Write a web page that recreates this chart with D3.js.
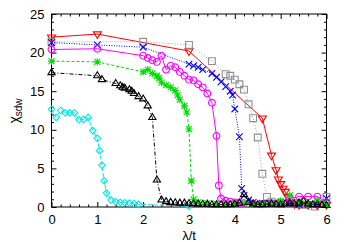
<!DOCTYPE html>
<html>
<head>
<meta charset="utf-8">
<script src="https://cdn.jsdelivr.net/npm/d3@7"></script>
<style>
  body { margin: 0; background: #fff; }
  svg text { font-family: "Liberation Sans", Arial, sans-serif; }
</style>
</head>
<body>
<svg id="chart" width="346" height="242"></svg>
<script>
// values, [lambda/t, chi_sdw]
const redPts = [[0,22.0],[1,22.4],[3,20.2],[4.6,11.5],[4.8,6.7],[4.9,4.8],[4.95,3.6],[5.0,3.0],
  [5.05,2.4],[5.1,2.0],[5.15,1.35],[5.2,0.6],[5.3,0.4],[5.4,0.3],[5.6,0.3],[5.8,0.25],[6.0,0.3]]
const grayPts = [[0,21.4],[2,21.4],[3,21.0],[3.5,18.9],[3.8,17.2],[3.9,17.0],[4.0,16.5],[4.1,15.9],
  [4.2,15.2],[4.3,13.3],[4.4,11.5],[4.5,9.0],[4.6,4.3],[4.7,1.3],[4.8,0.7],[5.0,0.5],[5.2,0.4],
  [5.5,0.3],[5.75,0.05],[6.0,1.3]]
const bluePts = [[0,21.3],[1,21.0],[2,20.7],[3,18.5],[3.1,18.3],[3.2,18.1],[3.3,17.8],[3.5,17.3],
  [3.6,16.8],[3.7,16.2],[3.8,15.6],[3.9,15.0],[3.95,14.5],[4.0,12.7],[4.1,9.1],[4.15,2.4],[4.2,1.5],
  [4.3,0.9],[4.4,0.6],[4.6,0.5],[4.8,0.4],[5.0,0.45],[5.2,0.5],[5.4,0.3],[5.6,0.3],[5.8,0.4],[6.0,1.1]]
const magentaPts = [[0,20.4],[1,20.5],[2,19.6],[2.1,19.3],[2.2,19.0],[2.3,18.8],[2.4,19.6],[2.5,17.8],
  [2.6,18.3],[2.7,18.1],[2.8,17.5],[2.9,17.0],[3.0,16.5],[3.1,16.4],[3.2,15.9],[3.3,15.5],[3.4,14.7],
  [3.5,13.5],[3.6,9.2],[3.65,2.8],[3.7,1.1],[3.8,0.8],[3.9,0.7],[4.0,0.6],[4.1,0.55],[4.2,0.5],
  [4.4,0.45],[4.6,0.4],[4.8,0.5],[5.0,0.6],[5.2,1.1],[5.4,1.35],[5.6,1.35],[5.8,1.35],[6.0,0.6]]
const greenPts = [[0,18.9],[1,18.8],[2.0,17.5],[2.1,17.8],[2.2,17.3],[2.3,17.0],[2.35,16.7],[2.4,16.1],
  [2.5,15.8],[2.6,15.5],[2.7,15.1],[2.75,14.5],[2.8,13.9],[2.9,13.1],[2.95,12.3],[3.0,10.1],[3.05,3.4],
  [3.1,1.0],[3.2,0.6],[3.4,0.5],[3.6,0.45],[3.8,0.4],[4.0,0.4],[4.2,0.5],[4.4,0.35],[4.6,0.3],
  [4.8,0.4],[5.0,0.8],[5.2,1.5],[5.4,0.6],[5.6,0.4],[5.8,0.9],[6.0,0.3]]
const blackPts = [[0,17.4],[1,17.0],[1.1,16.5],[1.4,16.0],[1.5,15.7],[1.55,15.5],[1.6,15.4],[1.7,15.2],
  [1.75,15.0],[1.8,14.7],[1.9,14.3],[2.0,14.0],[2.1,13.1],[2.2,11.6],[2.3,3.5],[2.4,0.9],[2.5,0.7],
  [2.6,0.6],[2.7,0.55],[2.8,0.5],[2.9,0.5],[3.0,0.45],[3.1,0.4],[3.2,0.4],[3.3,0.35],[3.4,0.35],
  [3.5,0.3],[3.6,0.3],[3.7,0.3],[3.8,0.3],[3.9,0.3],[4.0,0.35],[4.1,0.5],[4.2,1.6],[4.3,0.6],
  [4.4,0.4],[4.5,0.3],[4.6,0.3],[4.7,0.35],[4.8,0.4],[4.9,0.35],[5.0,0.3],[5.1,0.4],[5.2,0.5],
  [5.3,0.4],[5.4,0.5],[5.5,0.75],[5.6,0.4],[5.7,0.3],[5.8,0.3],[5.9,0.25],[6.0,0.2]]
const cyanPts = [[0,12.65],[0.1,11.6],[0.2,12.5],[0.3,12.2],[0.4,12.2],[0.5,12.2],[0.6,11.3],[0.7,11.35],
  [0.8,11.6],[0.9,9.9],[1.0,8.9],[1.05,7.3],[1.1,5.4],[1.15,3.4],[1.2,1.8],[1.3,0.9],[1.4,0.7],
  [1.5,0.6],[1.6,0.55],[1.7,0.5],[1.8,0.45],[1.9,0.35],[3.0,0.1]]

const xTicks = [0, 1, 2, 3, 4, 5, 6]
const yTicks = [0, 5, 10, 15, 20, 25]

// open marker shapes, gnuplot style
const shapes = {
  triDown: r => `M${-r},${-r*0.55}L${r},${-r*0.55}L0,${r*1.1}Z`,
  triUp: r => `M${-r},${r*0.55}L${r},${r*0.55}L0,${-r*1.1}Z`,
  square: r => `M${-r},${-r}H${r}V${r}H${-r}Z`,
  circle: r => `M${r},0A${r},${r} 0 1,1 ${-r},0A${r},${r} 0 1,1 ${r},0Z`,
  cross: r => `M${-r},${-r}L${r},${r}M${-r},${r}L${r},${-r}`,
  star: r => `M${-r},${-r}L${r},${r}M${-r},${r}L${r},${-r}M0,${-r*1.2}V${r*1.2}M${-r*1.2},0H${r*1.2}`,
  diamond: r => `M0,${-r}L${r},0L0,${r}L${-r},0Z`
}

const series = [
  {pts: cyanPts, color: '#00e8e8', dash: '4,2', shape: 'diamond', r: 3.3},
  {pts: redPts, color: '#ff0000', dash: null, shape: 'triDown', r: 4},
  {pts: grayPts, color: '#a0a0a0', dash: '1,2', shape: 'square', r: 3.4, mcolor: '#909090'},
  {pts: bluePts, color: '#0000ff', dash: '1,1.5', shape: 'cross', r: 3.3},
  {pts: magentaPts, color: '#ff00ff', dash: null, shape: 'circle', r: 3.4},
  {pts: greenPts, color: '#00dd00', dash: '3,2', shape: 'star', r: 3},
  {pts: blackPts, color: '#000000', dash: '4,2,1,2', shape: 'triUp', r: 3.6}
]

const svg = d3.select('#chart')
const mLeft = 51.5, mRight = 326.5, mTop = 14, mBottom = 207

const x = d3.scaleLinear().domain([0, 6]).range([mLeft, mRight])
const y = d3.scaleLinear().domain([0, 25]).range([mBottom, mTop])

const xMinor = d3.range(0, 6.001, 0.2).filter(v => Math.abs(v - Math.round(v)) > 1e-6)
const yMinor = d3.range(0, 25.001, 1).filter(v => v % 5 !== 0)

function styleAxis (g) {
  g.select('.domain').remove()
  g.selectAll('line').attr('stroke', '#000')
  g.selectAll('text').attr('font-size', 13).attr('fill', '#000')
    .style('font-family', '"Liberation Sans", Arial, sans-serif')
}

// bottom + top
svg.append('g').attr('transform', `translate(0,${mBottom})`)
  .call(d3.axisBottom(x).tickValues(xTicks).tickSize(-5).tickPadding(8).tickFormat(d3.format('d')))
  .call(styleAxis)
svg.append('g').attr('transform', `translate(0,${mBottom})`)
  .call(d3.axisBottom(x).tickValues(xMinor).tickSize(-2.5).tickFormat(''))
  .call(styleAxis)
svg.append('g').attr('transform', `translate(0,${mTop})`)
  .call(d3.axisTop(x).tickValues(xTicks).tickSize(-5).tickFormat(''))
  .call(styleAxis)
svg.append('g').attr('transform', `translate(0,${mTop})`)
  .call(d3.axisTop(x).tickValues(xMinor).tickSize(-2.5).tickFormat(''))
  .call(styleAxis)

// left + right
svg.append('g').attr('transform', `translate(${mLeft},0)`)
  .call(d3.axisLeft(y).tickValues(yTicks).tickSize(-5).tickPadding(7).tickFormat(d3.format('d')))
  .call(styleAxis)
svg.append('g').attr('transform', `translate(${mLeft},0)`)
  .call(d3.axisLeft(y).tickValues(yMinor).tickSize(-2.5).tickFormat(''))
  .call(styleAxis)
svg.append('g').attr('transform', `translate(${mRight},0)`)
  .call(d3.axisRight(y).tickValues(yTicks).tickSize(-5).tickFormat(''))
  .call(styleAxis)
svg.append('g').attr('transform', `translate(${mRight},0)`)
  .call(d3.axisRight(y).tickValues(yMinor).tickSize(-2.5).tickFormat(''))
  .call(styleAxis)

// frame
svg.append('rect')
  .attr('x', mLeft).attr('y', mTop)
  .attr('width', mRight - mLeft).attr('height', mBottom - mTop)
  .attr('fill', 'none').attr('stroke', '#000').attr('stroke-width', 1)

const line = d3.line().x(d => x(d[0])).y(d => y(d[1]))

series.forEach(s => {
  const g = svg.append('g')
  g.append('path')
    .datum(s.pts)
    .attr('d', line)
    .attr('fill', 'none')
    .attr('stroke', s.color)
    .attr('stroke-width', 1)
    .attr('stroke-dasharray', s.dash)
  g.selectAll('path.pt')
    .data(s.pts)
    .enter()
    .append('path')
    .attr('class', 'pt')
    .attr('transform', d => `translate(${x(d[0])},${y(d[1])})`)
    .attr('d', shapes[s.shape](s.r))
    .attr('fill', 'none')
    .attr('stroke', s.mcolor || s.color)
    .attr('stroke-width', 1.1)
})

// axis titles
svg.append('text')
  .attr('transform', 'translate(19,111) rotate(-90)')
  .attr('text-anchor', 'middle')
  .attr('font-size', 14)
  .call(t => {
    t.append('tspan').text('χ')
    t.append('tspan').attr('font-size', 10).attr('dy', 3).text('sdw')
  })

svg.append('text')
  .attr('x', 189).attr('y', 240)
  .attr('text-anchor', 'middle')
  .attr('font-size', 13)
  .text('λ/t')
</script>
</body>
</html>
